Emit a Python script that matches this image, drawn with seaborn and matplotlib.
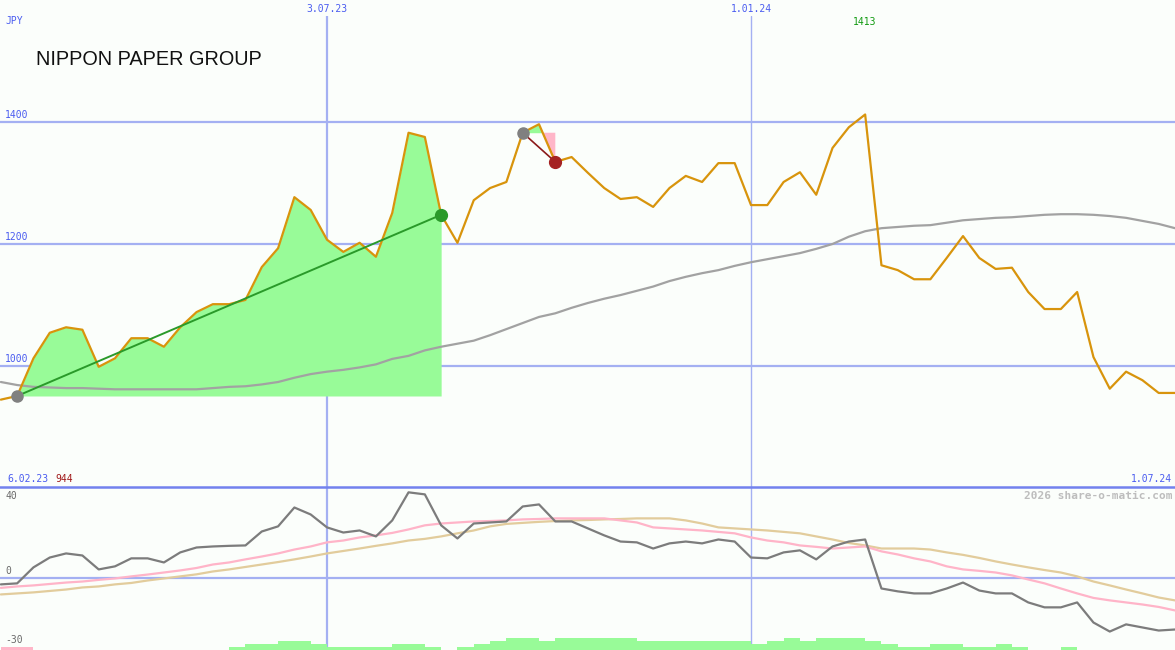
import numpy as np
import pandas as pd
import matplotlib
matplotlib.use("Agg")
import matplotlib.pyplot as plt
import matplotlib.dates as mdates
import matplotlib.transforms as mtransforms
import seaborn as sns

# ---------------- data (weekly, Mondays) ----------------
TITLE = "NIPPON PAPER GROUP"
CURRENCY = "JPY"
first_week = "2023-02-13"

price = [944, 950, 1012, 1054, 1063, 1059, 998, 1012, 1045, 1045, 1031, 1063, 1088,
         1101, 1101, 1108, 1162, 1193, 1277, 1256, 1207, 1187, 1202, 1179, 1251, 1383,
         1376, 1248, 1202, 1272, 1292, 1302, 1383, 1397, 1335, 1343, 1317, 1292, 1274,
         1277, 1261, 1292, 1312, 1302, 1333, 1333, 1264, 1264, 1302, 1318, 1281, 1358,
         1392, 1413, 1165, 1157, 1142, 1142, 1177, 1213, 1177, 1159, 1161, 1121, 1093,
         1093, 1121, 1014, 962, 990, 976, 955, 955]

ma_long = [973, 968, 965, 964, 963, 963, 962, 961, 961, 961, 961, 961, 961, 963, 965,
           966, 969, 973, 980, 986, 990, 993, 997, 1002, 1011, 1016, 1025, 1031, 1036,
           1041, 1050, 1060, 1070, 1080, 1086, 1095, 1103, 1110, 1116, 1123, 1130, 1139,
           1146, 1152, 1157, 1164, 1170, 1175, 1180, 1185, 1192, 1200, 1212, 1221, 1226,
           1228, 1230, 1231, 1235, 1239, 1241, 1243, 1244, 1246, 1248, 1249, 1249, 1248,
           1246, 1243, 1238, 1233, 1226]

osc = [-2.9, -2.4, 5.4, 10.2, 12.2, 11.2, 4.4, 5.9, 9.8, 9.8, 7.8, 12.7, 15.1, 15.6,
       15.9, 16.1, 22.9, 25.4, 34.6, 31.2, 24.9, 22.4, 23.4, 20.5, 28.3, 42.0, 41.0,
       25.9, 19.5, 26.8, 27.3, 27.8, 35.1, 36.1, 27.8, 27.8, 24.4, 21.0, 18.0, 17.6,
       14.6, 17.1, 18.0, 17.1, 19.0, 18.0, 10.2, 9.8, 12.7, 13.7, 9.3, 15.6, 18.0, 19.0,
       -4.9, -6.3, -7.3, -7.3, -4.9, -2.0, -5.9, -7.3, -7.3, -11.7, -14.1, -14.1, -11.7,
       -21.5, -25.9, -22.4, -23.9, -25.4, -24.9]

osc_fast = [-4.6, -3.9, -3.4, -2.7, -2.0, -1.5, -0.7, 0.0, 1.0, 1.9, 2.9, 3.9, 5.1, 6.8,
            7.8, 9.3, 10.7, 12.2, 14.1, 15.6, 17.6, 18.5, 20.0, 21.0, 22.2, 23.9, 25.9,
            26.8, 27.3, 27.8, 28.0, 28.3, 28.8, 29.0, 29.3, 29.3, 29.3, 29.3, 28.3, 27.3,
            24.9, 24.4, 23.9, 23.4, 22.7, 22.0, 20.0, 18.5, 17.6, 16.1, 15.4, 14.6, 15.1,
            15.6, 13.2, 11.7, 9.8, 8.3, 5.9, 4.4, 3.7, 2.9, 1.5, -0.5, -2.4, -4.9, -7.3,
            -9.5, -10.7, -11.7, -12.7, -13.9, -15.6]

osc_slow = [-7.8, -7.3, -6.8, -6.1, -5.4, -4.4, -3.9, -2.9, -2.2, -1.0, 0.0, 1.0, 2.0,
            3.4, 4.4, 5.6, 6.8, 8.0, 9.3, 10.7, 12.2, 13.4, 14.6, 15.9, 17.1, 18.5, 19.3,
            20.5, 22.0, 23.4, 25.4, 26.6, 27.1, 27.6, 28.0, 28.3, 28.5, 28.8, 29.0, 29.3,
            29.3, 29.3, 28.3, 26.8, 24.9, 24.4, 23.9, 23.4, 22.7, 22.0, 20.5, 19.0, 17.3,
            16.1, 14.6, 14.6, 14.6, 14.1, 12.7, 11.5, 10.0, 8.3, 6.8, 5.4, 4.1, 2.9, 1.0,
            -1.5, -3.4, -5.4, -7.3, -9.3, -10.7]

hist = [-1, -1, 0, 0, 0, 0, 0, 0, 0, 0, 0, 0, 0, 0,
        1, 2, 2, 3, 3, 2, 1, 1, 1, 1, 2, 2, 1, 0,
        1, 2, 3, 4, 4, 3, 4, 4, 4, 4, 4,
        3, 3, 3, 3, 3, 3, 3, 2, 3, 4, 3, 4, 4, 4,
        3, 2, 1, 1, 2, 2, 1, 1, 2, 1, 0, 0, 1,
        0, 0, 0, 0, 0, 0, 0]

price_ticks = [1000, 1200, 1400]
osc_ticks = [40, 0, -30]
mark_dates = ["2023-07-03", "2024-01-01"]
mark_labels = ["3.07.23", "1.01.24"]
range_start_label = "6.02.23"
range_end_label = "1.07.24"
low_value_label = "944"
high_value_label = "1413"
watermark = "2026 share-o-matic.com"
trend_a = (1, 27)    # start/end index of first trend segment
trend_b = (32, 34)   # start/end index of second trend segment

dates = pd.date_range(first_week, periods=len(price), freq="7D")
df = pd.DataFrame({"date": dates, "price": price, "ma": ma_long,
                   "osc": osc, "fast": osc_fast, "slow": osc_slow, "hist": hist})

# ---------------- style ----------------
BG = "#fbfefb"
GRID = "#a4b0f2"
ORANGE = "#d8940c"
TEXT_BLUE = "#4a5cf0"
MONO = "DejaVu Sans Mono"

sns.set_style("white", {"axes.facecolor": "none", "figure.facecolor": BG})
plt.rcParams["font.family"] = ["Liberation Sans", "DejaVu Sans"]

W, H = 1175, 650
TOP, SEP = 16, 487
fig = plt.figure(figsize=(W / 100, H / 100), dpi=100, facecolor=BG)
ax = fig.add_axes([0, 1 - SEP / H, 1, (SEP - TOP) / H])
ax2 = fig.add_axes([0, 0, 1, 1 - SEP / H], sharex=ax)

for a in (ax, ax2):
    for s in a.spines.values():
        s.set_visible(False)

ref = mdates.date2num(pd.Timestamp("2024-01-01"))
ppd = (751 - 327) / 182.0
ax.set_ylim(800.3, 1575)
ax2.set_ylim(-34.9, 44.6)

# grid
for t in price_ticks:
    ax.axhline(t, color=GRID, lw=1.6, zorder=1)
ax2.axhline(0, color=GRID, lw=1.6, zorder=1)
for d, lw in zip(mark_dates, [1.6, 1.0]):
    for a in (ax, ax2):
        a.axvline(pd.Timestamp(d), color=GRID, lw=lw, zorder=1)
ax2.spines["top"].set_visible(True)
ax2.spines["top"].set_color("#7282ee")
ax2.spines["top"].set_linewidth(1.8)

# fills for trend segments
i0, i1 = trend_a
seg = df.iloc[i0:i1 + 1]
ax.fill_between(seg["date"], seg["price"], seg["price"].iloc[0],
                color="#98fb98", lw=0, zorder=2)
j0, j1 = trend_b
seg2 = df.iloc[j0:j1 + 1]
base2 = seg2["price"].iloc[0]
ax.fill_between(seg2["date"], seg2["price"], base2, where=seg2["price"] >= base2,
                interpolate=True, color="#98fb98", lw=0, zorder=2)
ax.fill_between(seg2["date"], seg2["price"], base2, where=seg2["price"] <= base2,
                interpolate=True, color="#ffb6c8", lw=0, zorder=2)

# price panel lines
sns.lineplot(data=df, x="date", y="ma", ax=ax, color="#a2a2a2", lw=1.6,
             zorder=3, legend=False)
sns.lineplot(data=df, x="date", y="price", ax=ax, color=ORANGE, lw=1.6,
             zorder=4, legend=False)

# trend lines with dots
ax.plot([df["date"][i0], df["date"][i1]], [price[i0], price[i1]],
        color="#2a9a2a", lw=1.4, zorder=5)
ax.plot(df["date"][i0], price[i0], "o", color="#808080", ms=8, zorder=6)
ax.plot(df["date"][i1], price[i1], "o", color="#2a9a2a", ms=8.5, zorder=6)
ax.plot([df["date"][j0], df["date"][j1]], [price[j0], price[j1]],
        color="#8b1a1a", lw=1.2, zorder=5)
ax.plot(df["date"][j0], price[j0], "o", color="#808080", ms=8, zorder=6)
ax.plot(df["date"][j1], price[j1], "o", color="#a52222", ms=8.5, zorder=6)

# oscillator panel
lvl = 3 / 2.05
ybot = ax2.get_ylim()[0]
hx = mdates.date2num(df["date"])
hv = np.array(hist)
ax2.bar(hx, np.abs(hv) * lvl, width=7, bottom=ybot, align="edge",
        color=np.where(hv < 0, "#ffb6c8", "#98fb98"), lw=0, zorder=1.5)
sns.lineplot(data=df, x="date", y="slow", ax=ax2, color="#e2cc9c", lw=1.6,
             zorder=3, legend=False)
sns.lineplot(data=df, x="date", y="fast", ax=ax2, color="#ffb4c8", lw=1.6,
             zorder=3, legend=False)
sns.lineplot(data=df, x="date", y="osc", ax=ax2, color="#7c7c7c", lw=1.6,
             zorder=4, legend=False)
for a in (ax, ax2):
    a.set_xlabel("")
    a.set_ylabel("")
    a.set_xticks([])
    a.set_yticks([])
ax.set_xlim(ref - 751 / ppd, ref + (W - 751) / ppd)
ax2.set_ylim(-34.9, 44.6)

# ---------------- texts ----------------
def fx(px):
    return px / W

def fy(py):
    return 1 - py / H

FS = 7
yt = mtransforms.offset_copy(ax.get_yaxis_transform(), fig=fig, x=0, y=2, units="dots")
for t in price_ticks:
    ax.text(fx(5), t, str(t), transform=yt, ha="left", va="bottom",
            fontsize=FS, family=MONO, color=TEXT_BLUE)
yt2 = ax2.get_yaxis_transform()
ax2.text(fx(5), osc_ticks[0], str(osc_ticks[0]), transform=yt2, ha="left", va="center",
         fontsize=FS, family=MONO, color="#6a6a6a")
ax2.text(fx(5), osc_ticks[1], str(osc_ticks[1]),
         transform=mtransforms.offset_copy(yt2, fig=fig, x=0, y=2, units="dots"),
         ha="left", va="bottom", fontsize=FS, family=MONO, color="#6a6a6a")
ax2.text(fx(5), osc_ticks[2], str(osc_ticks[2]), transform=yt2, ha="left", va="center",
         fontsize=FS, family=MONO, color="#6a6a6a")

xfig = mtransforms.blended_transform_factory(ax.transData, fig.transFigure)
for d, lab in zip(mark_dates, mark_labels):
    ax.text(pd.Timestamp(d), fy(9), lab, transform=xfig, ha="center", va="center",
            fontsize=FS, family=MONO, color=TEXT_BLUE)
peak_i = int(np.argmax(price))
ax.text(df["date"][peak_i], fy(22), high_value_label, transform=xfig, ha="right",
        va="center", fontsize=FS, family=MONO, color="#109a10",
        ).set_x(df["date"][peak_i] + pd.Timedelta(days=5))

fig.text(fx(5), fy(21), CURRENCY, ha="left", va="center", fontsize=FS, family=MONO,
         color=TEXT_BLUE)
fig.text(fx(36), fy(65), TITLE, ha="left", va="baseline", fontsize=14.3,
         family="Liberation Sans", color="#111111")
fig.text(fx(7), fy(479), range_start_label, ha="left", va="center", fontsize=FS,
         family=MONO, color=TEXT_BLUE)
fig.text(fx(55), fy(479), low_value_label, ha="left", va="center", fontsize=FS,
         family=MONO, color="#a01818")
fig.text(fx(1172), fy(479), range_end_label, ha="right", va="center", fontsize=FS,
         family=MONO, color=TEXT_BLUE)
fig.text(fx(1172), fy(496), watermark, ha="right", va="center", fontsize=8,
         family=MONO, fontweight="bold", color="#bdbdbd")

fig.savefig("out.png", dpi=100, facecolor=BG)
